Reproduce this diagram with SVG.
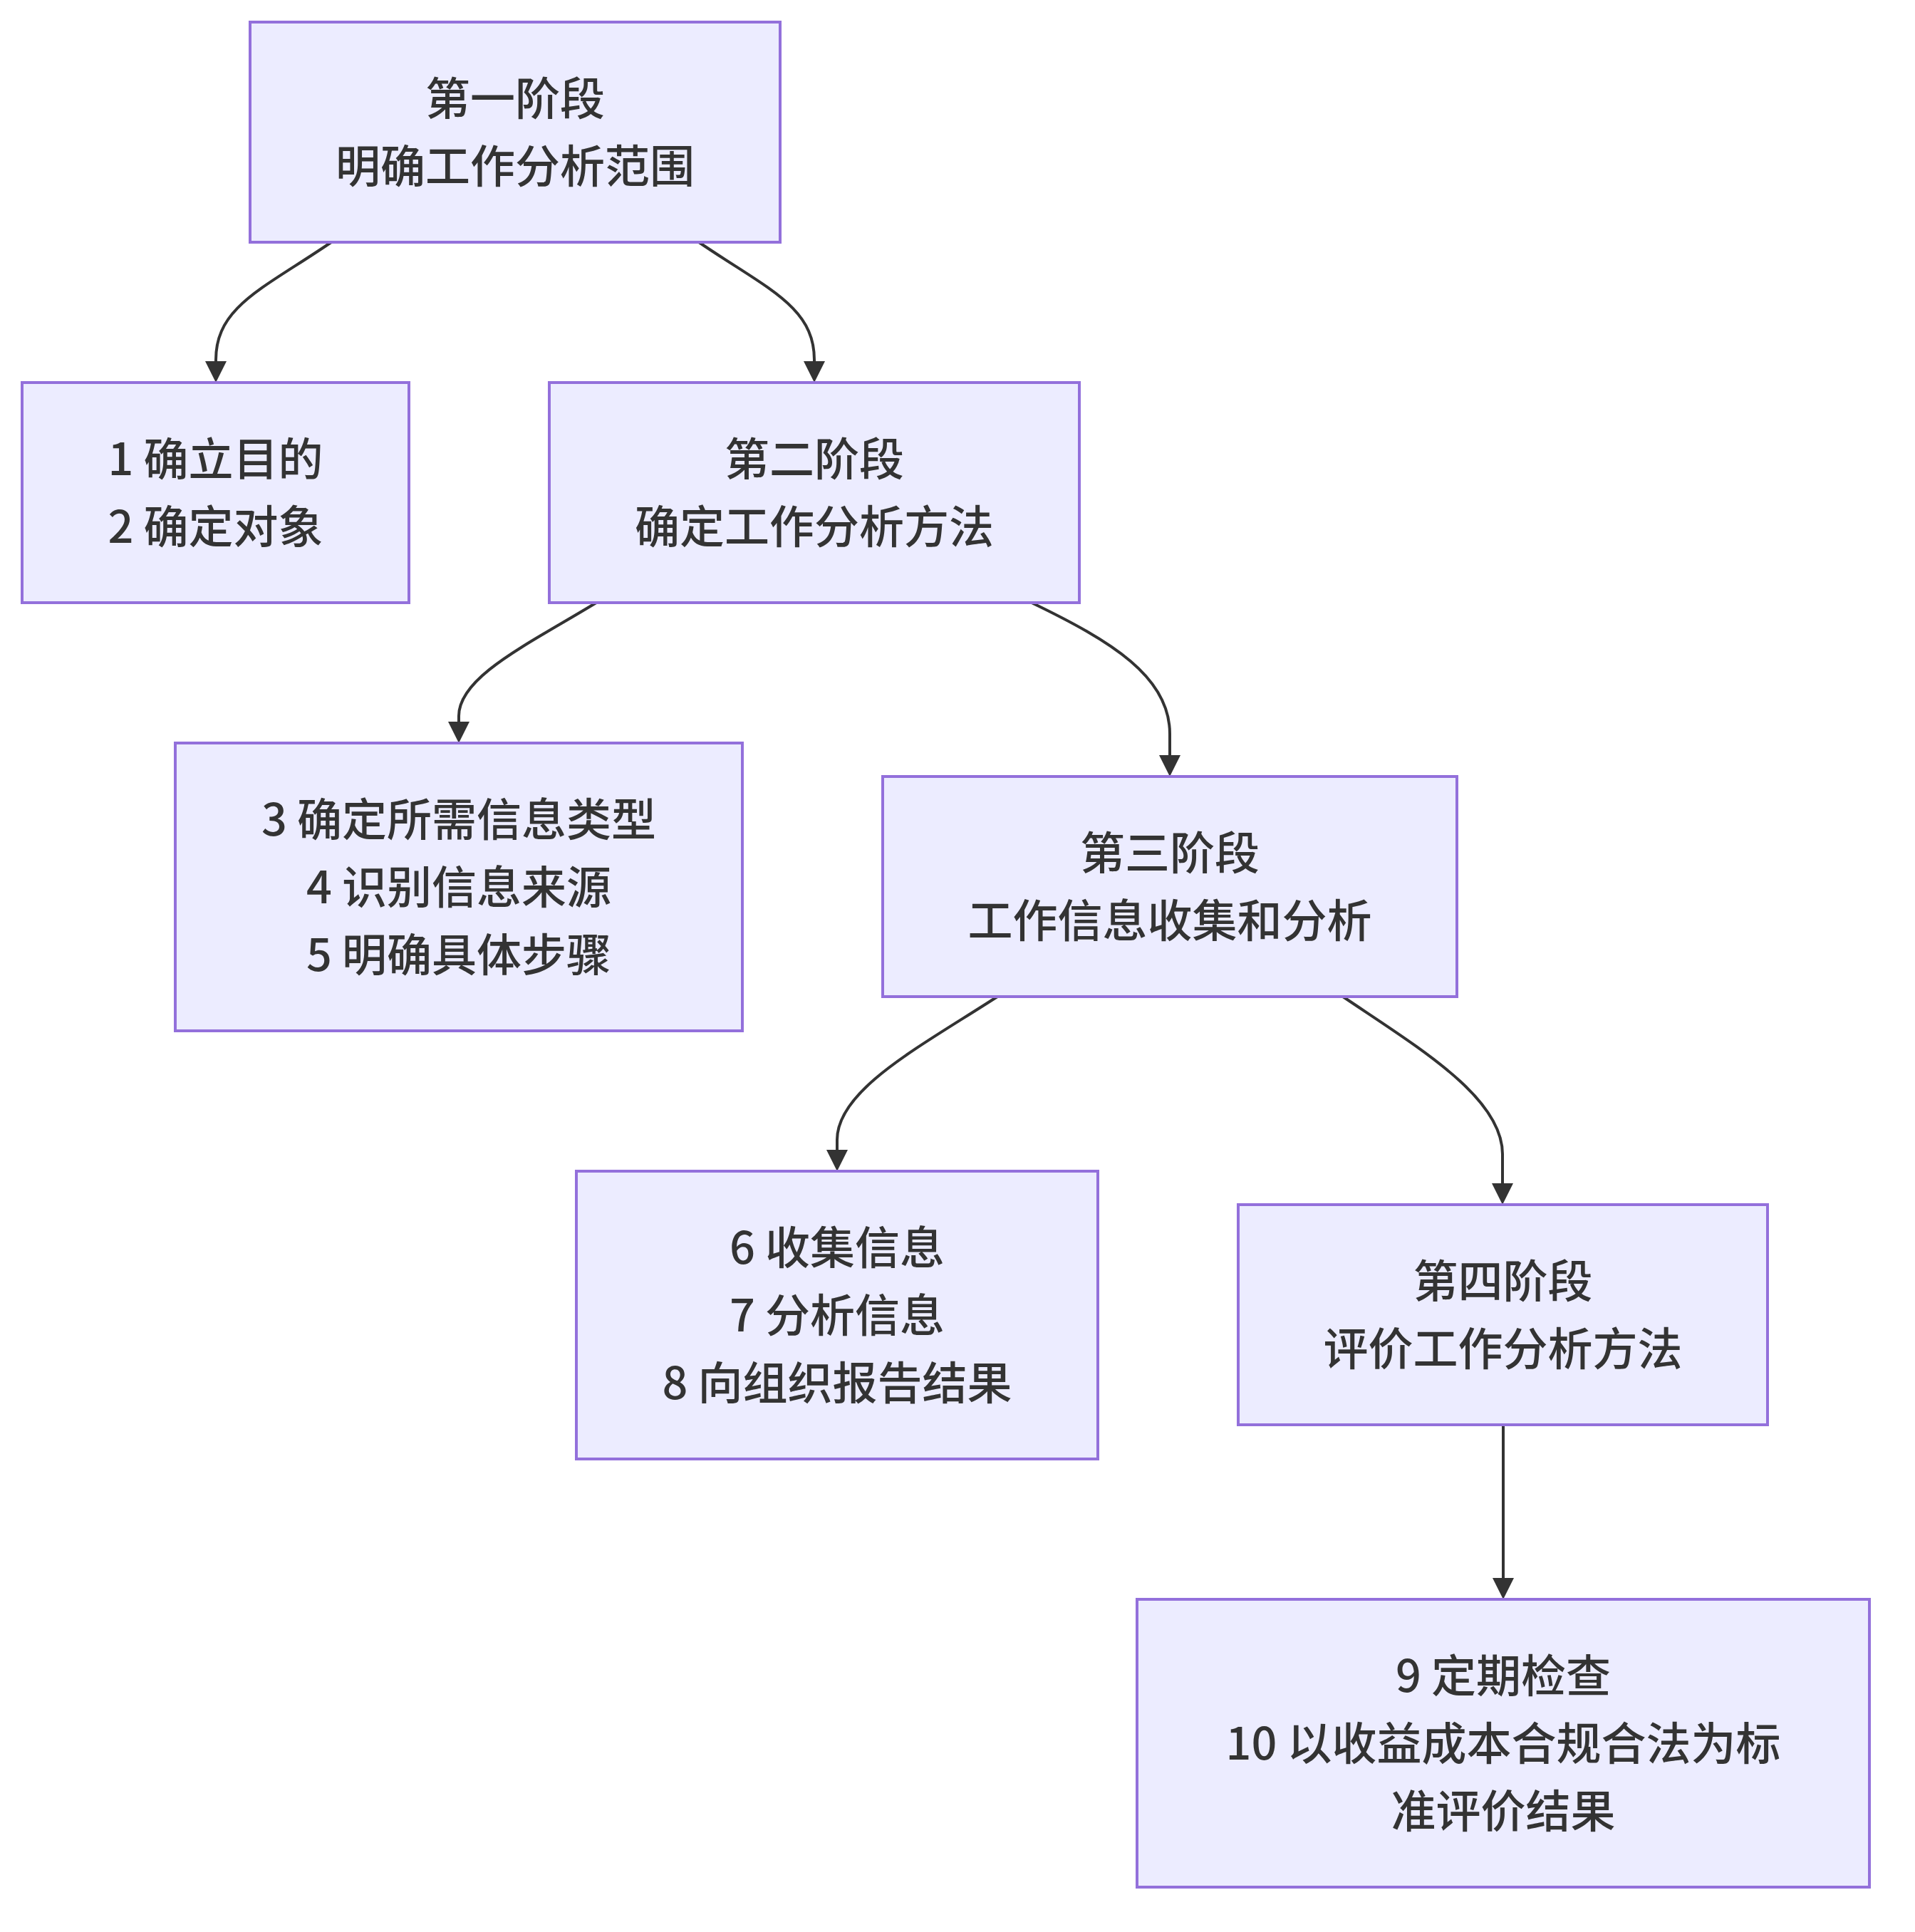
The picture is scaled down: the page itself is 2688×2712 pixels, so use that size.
<svg xmlns="http://www.w3.org/2000/svg" width="2688" height="2712" viewBox="0 0 2688 2712">
<style>
.node rect{fill:#ECECFF;stroke:#9370DB;stroke-width:4}
.node text{font-family:"Noto Sans CJK SC","Noto Sans",sans-serif;font-size:63px;font-weight:500;fill:#333;text-anchor:middle}
.edge{fill:none;stroke:#333;stroke-width:4}
</style>
<defs>
<marker id="arr" viewBox="0 0 10 10" refX="8" refY="5" markerUnits="userSpaceOnUse" markerWidth="30" markerHeight="30" orient="auto">
<path d="M0,0 L10,5 L0,10 z" fill="#333"/>
</marker>
</defs>
<rect width="2688" height="2712" fill="#fff"/>
<g id="edges">
<path class="edge" marker-end="url(#arr)" d="M465,340 C370,405 303,430 303,505 L303,531"/>
<path class="edge" marker-end="url(#arr)" d="M981,340 C1076,405 1143,430 1143,505 L1143,531"/>
<path class="edge" marker-end="url(#arr)" d="M837,846 C740,905 644,950 644,1005 L644,1037"/>
<path class="edge" marker-end="url(#arr)" d="M1448,846 C1560,900 1642,950 1642,1030 L1642,1084"/>
<path class="edge" marker-end="url(#arr)" d="M1400,1399 C1290,1470 1175,1530 1175,1600 L1175,1638"/>
<path class="edge" marker-end="url(#arr)" d="M1885,1399 C1990,1470 2109,1540 2109,1620 L2109,1685"/>
<path class="edge" marker-end="url(#arr)" d="M2110,2000 L2110,2239"/>
</g>
<g id="n1" class="node">
<rect x="351" y="31" width="744" height="309"/>
<text x="723" y="161">第一阶段</text>
<text x="723" y="256">明确工作分析范围</text>
</g>
<g id="n2" class="node">
<rect x="31" y="537" width="543" height="309"/>
<text x="302.5" y="667">1 确立目的</text>
<text x="302.5" y="762">2 确定对象</text>
</g>
<g id="n3" class="node">
<rect x="771" y="537" width="744" height="309"/>
<text x="1143" y="667">第二阶段</text>
<text x="1143" y="762">确定工作分析方法</text>
</g>
<g id="n4" class="node">
<rect x="246" y="1043" width="796" height="404"/>
<text x="644" y="1173">3 确定所需信息类型</text>
<text x="644" y="1268">4 识别信息来源</text>
<text x="644" y="1363">5 明确具体步骤</text>
</g>
<g id="n5" class="node">
<rect x="1239" y="1090" width="806" height="309"/>
<text x="1642" y="1220">第三阶段</text>
<text x="1642" y="1315">工作信息收集和分析</text>
</g>
<g id="n6" class="node">
<rect x="809" y="1644" width="732" height="404"/>
<text x="1175" y="1774">6 收集信息</text>
<text x="1175" y="1869">7 分析信息</text>
<text x="1175" y="1964">8 向组织报告结果</text>
</g>
<g id="n7" class="node">
<rect x="1738" y="1691" width="743" height="309"/>
<text x="2109.5" y="1821">第四阶段</text>
<text x="2109.5" y="1916">评价工作分析方法</text>
</g>
<g id="n8" class="node">
<rect x="1596" y="2245" width="1028" height="404"/>
<text x="2110" y="2375">9 定期检查</text>
<text x="2110" y="2470">10 以收益成本合规合法为标</text>
<text x="2110" y="2565">准评价结果</text>
</g>
</svg>
